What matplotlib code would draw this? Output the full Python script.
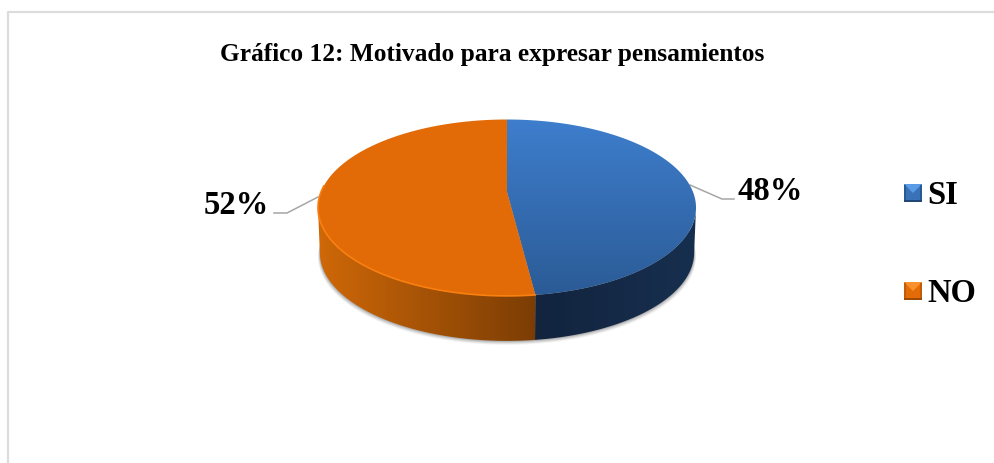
import matplotlib
matplotlib.use('Agg')
import matplotlib.pyplot as plt
from matplotlib.colors import LinearSegmentedColormap
from matplotlib.patches import Polygon
import numpy as np

title = 'Gráfico 12: Motivado para expresar pensamientos'
categories = ['SI', 'NO']
values = [48, 52]

plt.rcParams['font.family'] = ['Liberation Serif', 'DejaVu Serif']
plt.rcParams['font.weight'] = 'bold'

W, H = 995, 463
fig = plt.figure(figsize=(W / 100, H / 100), dpi=100)
ax = fig.add_axes([0, 0, 1, 1])
ax.set_axis_off()

# pie geometry, perspective view of a disc
cx, cy = 507, 192
rx, ry = 186, 85.4
k = 0.178
depth = 45


def project(theta, drop=0, shrink=1.0):
    u, v = np.cos(theta), np.sin(theta)
    w = 1 + k * v
    return cx + shrink * rx * u / w, cy - ry * v / w + drop


def gradient_fill(poly, c0, c1, horizontal=False, zorder=2):
    xs, ys = poly[:, 0], poly[:, 1]
    cmap = LinearSegmentedColormap.from_list('g', [c0, c1])
    grad = np.linspace(0, 1, 256)
    grad = grad.reshape(1, -1) if horizontal else grad.reshape(-1, 1)
    im = ax.imshow(grad, cmap=cmap, aspect='auto', zorder=zorder,
                   extent=[xs.min(), xs.max(), ys.max(), ys.min()], origin='upper')
    patch = Polygon(poly, closed=True, transform=ax.transData, fc='none', ec='none')
    ax.add_patch(patch)
    im.set_clip_path(patch)


fracs = np.array(values) / sum(values)
start = np.pi / 2
end = start - 2 * np.pi * fracs[0]
full = start - 2 * np.pi

# soft shadow under the disc
t = np.linspace(0, 2 * np.pi, 200)
for grow, alpha in [(4, 0.05), (3, 0.07), (2, 0.09), (1, 0.12)]:
    sx, sy = project(t, depth + grow, 0.99 + grow / 400)
    ax.add_patch(Polygon(np.c_[sx, sy], closed=True, fc='black', ec='none',
                         alpha=alpha, zorder=1))

# side wall, only the front part is seen
right_edge = -np.arcsin(k)
left_edge = -np.pi + np.arcsin(k)


def side_poly(a, b):
    th = np.linspace(a, b, 80)
    x0, y0 = project(th)
    x1, y1 = project(th[::-1], depth, 0.99)
    return np.c_[np.r_[x0, x1], np.r_[y0, y1]]


gradient_fill(side_poly(right_edge, end), '#172f4f', '#12243e', horizontal=True)
ax.images[-1].set_array(np.linspace(1, 0, 256).reshape(1, -1))
gradient_fill(side_poly(end, left_edge), '#7a3c04', '#cf6808', horizontal=True)
# orange gets darker to the right
ax.images[-1].set_extent([318, 539, 342, 207])
ax.images[-1].set_array(np.linspace(1, 0, 256).reshape(1, -1))

# top faces
th = np.linspace(start, end, 200)
x, y = project(th)
si_poly = np.c_[np.r_[cx, x], np.r_[cy, y]]
gradient_fill(si_poly, '#3e7ecd', '#2b5b96', zorder=3)

th = np.linspace(end, full, 200)
x, y = project(th)
no_poly = np.c_[np.r_[cx, x], np.r_[cy, y]]
ax.add_patch(Polygon(no_poly, closed=True, fc='#e26b08', ec='none', zorder=3))
rim = np.linspace(end, left_edge - 0.25, 120)
ax.plot(*project(rim), color='#f98010', lw=1.2, zorder=4)

# leader lines
leaders = [([690, 722, 734], [185, 199, 199]), ([318, 287, 274], [197, 213, 213])]
for lx, ly in leaders:
    ax.plot(lx, ly, color='#a6a6a6', lw=1.1, zorder=2)

ax.text(737, 192, f'{values[0]}%', fontsize=23.5, va='center', ha='left', color='black')
ax.text(269, 205, f'{values[1]}%', fontsize=23.5, va='center', ha='right', color='black')

# legend with bevelled keys
legend_y = [193, 291]
key_cols = [('#5a9be6', '#3a72b8', '#2a5a94', '#1f4674'), ('#f9922e', '#e36c09', '#c25c06', '#9c4a05')]
for name, ky, (c_top, c_mid, c_side, c_low) in zip(categories, legend_y, key_cols):
    x0, x1 = 904, 922
    y0, y1 = ky - 9, ky + 9
    xm, ym = (x0 + x1) / 2, ky
    ax.add_patch(Polygon([[x0, y0], [x1, y0], [x1, y1], [x0, y1]], fc=c_mid, ec='none', zorder=3))
    ax.add_patch(Polygon([[x0, y0], [x1, y0], [xm, ym]], fc=c_top, ec='none', zorder=4))
    ax.add_patch(Polygon([[x0, y0 + 1], [x0 + 2, y0 + 1], [x0 + 2, y1 - 2], [x0, y1]], fc=c_side, ec='none', zorder=4))
    ax.add_patch(Polygon([[x1, y0 + 1], [x1 - 2, y0 + 1], [x1 - 2, y1 - 2], [x1, y1]], fc=c_side, ec='none', zorder=4))
    ax.add_patch(Polygon([[x0, y1], [x1, y1], [x1, y1 - 2], [x0, y1 - 2]], fc=c_low, ec='none', zorder=5))
    ax.text(927, ky + 2.5, name, fontsize=23.5, va='center', ha='left', color='black')

ax.text(492, 54, title, fontsize=18.3, ha='center', va='center', color='black')

# frame of the chart area, open on the right
ax.plot([8, 8, W], [H, 12, 12], color='#dcdcdc', lw=1.6, zorder=1)

ax.set_xlim(0, W)
ax.set_ylim(H, 0)
fig.savefig('out.png', dpi=100, facecolor='white')
